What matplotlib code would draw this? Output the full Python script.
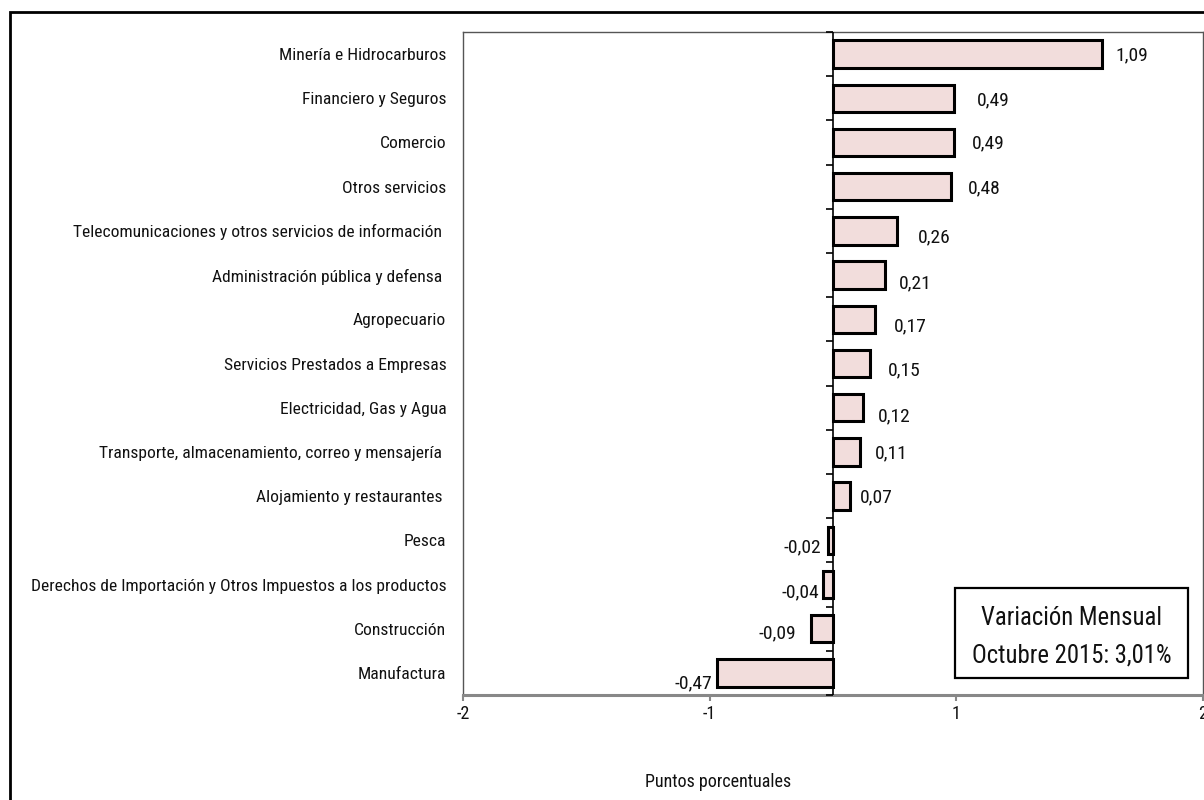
import matplotlib
matplotlib.use("Agg")
import matplotlib.pyplot as plt
from matplotlib.patches import Rectangle
from matplotlib import markers
import numpy as np

plt.rcParams['font.family'] = ['Roboto Condensed', 'DejaVu Sans']

# Contribución por actividad económica (puntos porcentuales)
sectores = [
    "Minería e Hidrocarburos",
    "Financiero y Seguros",
    "Comercio",
    "Otros servicios",
    "Telecomunicaciones y otros servicios de información ",
    "Administración pública y defensa ",
    "Agropecuario",
    "Servicios Prestados a Empresas",
    "Electricidad, Gas y Agua",
    "Transporte, almacenamiento, correo y mensajería ",
    "Alojamiento y restaurantes ",
    "Pesca",
    "Derechos de Importación y Otros Impuestos a los productos",
    "Construcción",
    "Manufactura",
]
incidencia = [1.09, 0.49, 0.49, 0.48, 0.26, 0.21, 0.17, 0.15, 0.12, 0.11, 0.07,
              -0.02, -0.04, -0.09, -0.47]

x_tick_values = [-1.5, -0.5, 0.5, 1.5]
x_tick_labels = ["-2", "-1", "1", "2"]

nota_titulo = "Variación Mensual"
nota_valor = "Octubre 2015: 3,01%"
eje_x = "Puntos porcentuales"

# offsets of the value labels from the bar end, in pixels
label_dx = [14, 23, 18, 16, 21, 14, 19, 18, 15, 15, 10, -7, -4, -15, -5]
label_dy = [1, 2, 1, 2, 6, 8, 7, 7, 9, 1, 1, 7, 8, 5, 10]

W, H = 1204, 800
fig = plt.figure(figsize=(W / 100, H / 100), dpi=100)
fig.patch.set_facecolor("white")

# outer frame of the figure
fig.patches.append(Rectangle((10 / W, -0.1), 1.2, (1 - 12 / H) + 0.1,
                             transform=fig.transFigure, fill=False,
                             edgecolor="black", linewidth=2.0, zorder=0))

ax_l, ax_r, ax_t, ax_b = 463, 1203, 32, 695
ax = fig.add_axes([ax_l / W, 1 - ax_b / H, (ax_r - ax_l) / W, (ax_b - ax_t) / H])

y = np.arange(len(sectores))
ax.barh(y, incidencia, height=0.62, color="#F2DDDC", edgecolor="black",
        linewidth=2.2, zorder=3)

ax.set_xlim(-1.5, 1.5)
ax.set_ylim(len(sectores) - 0.5, -0.5)

# zero axis with category separators
ax.axvline(0, color="black", linewidth=1.2, zorder=4)
bounds = np.arange(len(sectores) + 1) - 0.5
ax.plot(np.zeros_like(bounds), bounds, linestyle="none",
        marker=markers.TICKLEFT, markersize=5, markeredgewidth=1.2,
        color="black", zorder=4, clip_on=False)

ax.set_yticks(y)
ax.set_yticklabels(sectores, fontsize=12.6, color="#111111")
ax.tick_params(axis="y", length=0, pad=12)

ax.set_xticks(x_tick_values)
ax.set_xticklabels(x_tick_labels, fontsize=13, color="#111111")
ax.tick_params(axis="x", direction="out", length=4, width=1.5,
               color="#888888", pad=3)

for side in ("left", "top", "right"):
    ax.spines[side].set_color("#555555")
    ax.spines[side].set_linewidth(1.0)
ax.spines["bottom"].set_color("#888888")
ax.spines["bottom"].set_linewidth(2.2)

for i, v in enumerate(incidencia):
    txt = f"{v:.2f}".replace(".", ",")
    ax.annotate(txt, xy=(v, i), xytext=(label_dx[i], -label_dy[i]),
                textcoords="offset pixels", ha="left" if v > 0 else "right",
                va="center", fontsize=14, color="#111111", zorder=5)

# summary box
bx0, bx1, by0, by1 = 955, 1188, 588, 678
fig.patches.append(Rectangle((bx0 / W, 1 - by1 / H), (bx1 - bx0) / W, (by1 - by0) / H,
                             transform=fig.transFigure, fill=True,
                             facecolor="white", edgecolor="black",
                             linewidth=1.6, zorder=6))
fig.text((bx0 + bx1) / 2 / W, 1 - 618 / H, nota_titulo, ha="center",
         va="center", fontsize=17.8, color="#111111", zorder=7)
fig.text((bx0 + bx1) / 2 / W, 1 - 655 / H, nota_valor, ha="center",
         va="center", fontsize=17.8, color="#111111", zorder=7)

fig.text(718 / W, 1 - 782 / H, eje_x, ha="center", va="center",
         fontsize=13, color="#111111")

fig.savefig("out.png", dpi=100)
